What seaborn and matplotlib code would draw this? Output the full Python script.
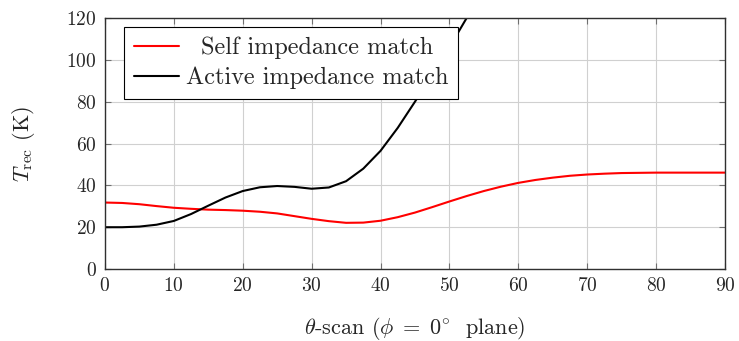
import matplotlib
matplotlib.use("Agg")
import matplotlib.pyplot as plt
import seaborn as sns
import pandas as pd

# Scan angle (degrees) and receiver noise temperature (K)
theta_self = [0, 2.5, 5, 7.5, 10, 12.5, 15, 17.5, 20, 22.5, 25, 27.5, 30, 32.5, 35,
              37.5, 40, 42.5, 45, 47.5, 50, 52.5, 55, 57.5, 60, 62.5, 65, 67.5, 70,
              72.5, 75, 77.5, 80, 85, 90]
trec_self = [31.8, 31.6, 31.0, 30.1, 29.3, 28.8, 28.4, 28.2, 27.9, 27.4, 26.6, 25.3,
             24.0, 22.9, 22.1, 22.2, 23.1, 24.8, 27.0, 29.6, 32.3, 34.9, 37.3, 39.4,
             41.2, 42.6, 43.7, 44.6, 45.2, 45.6, 45.9, 46.0, 46.1, 46.1, 46.1]

theta_active = [0, 2.5, 5, 7.5, 10, 12.5, 15, 17.5, 20, 22.5, 25, 27.5, 30,
                32.5, 35, 37.5, 40, 42.5, 45, 47.5, 50, 52.5, 55]
trec_active = [20.0, 20.0, 20.3, 21.2, 23.0, 26.3, 30.3, 34.2, 37.3, 39.1, 39.7, 39.3,
               38.4, 39.0, 42.0, 48.0, 56.5, 67.5, 80.0, 93.0, 106.0, 120.0, 134.0]

series_names = ["Self impedance match", "Active impedance match"]
x_ticks = [0, 10, 20, 30, 40, 50, 60, 70, 80, 90]
y_ticks = [0, 20, 40, 60, 80, 100, 120]

df = pd.concat([
    pd.DataFrame({"theta": theta_self, "trec": trec_self, "series": series_names[0]}),
    pd.DataFrame({"theta": theta_active, "trec": trec_active, "series": series_names[1]}),
])

sns.set_theme(style="whitegrid")
plt.rcParams.update({
    "font.family": "cmr10",
    "mathtext.fontset": "cm",
    "axes.formatter.use_mathtext": True,
    "axes.unicode_minus": False,
})

fig = plt.figure(figsize=(7.39, 3.41), dpi=100)
ax = fig.add_axes([0.142, 0.211, 0.839, 0.736])

sns.lineplot(data=df, x="theta", y="trec", hue="series", hue_order=series_names,
             palette={series_names[0]: "#ff0000", series_names[1]: "#000000"},
             linewidth=1.5, ax=ax, estimator=None, sort=False)

ax.set_xlim(0, 90)
ax.set_ylim(0, 120)
ax.set_xticks(x_ticks)
ax.set_yticks(y_ticks)
ax.grid(True, color="#d0d0d0", linewidth=0.8)
for s in ax.spines.values():
    s.set_color("#303030")
    s.set_linewidth(1.0)
ax.tick_params(direction="in", length=4, width=0.8, color="#707070",
               top=True, right=True, bottom=True, left=True,
               labelsize=14, pad=6)

ax.set_xlabel(r"$\theta$-scan ($\phi\;=\;0^{\circ}$  plane)", fontsize=16, labelpad=14)
ax.set_ylabel(r"$T_{\rm rec}$ (K)", fontsize=16, labelpad=21)

leg = ax.legend(loc="upper left", bbox_to_anchor=(0.031, 0.964), borderaxespad=0,
                fontsize=17.5, frameon=True, fancybox=False, framealpha=1,
                edgecolor="#000000", handlelength=1.85, handletextpad=0.3,
                borderpad=0.4, labelspacing=0.3, title=None)
leg.get_frame().set_linewidth(0.8)

# Centre the legend entries within their text column
fig.canvas.draw()
renderer = fig.canvas.get_renderer()
texts = leg.get_texts()
widths = [t.get_window_extent(renderer).width for t in texts]
wmax = max(widths)
for t, w in zip(texts, widths):
    t.set_position(((wmax - w) / 2.0, 0))

fig.savefig("out.png", dpi=100)
